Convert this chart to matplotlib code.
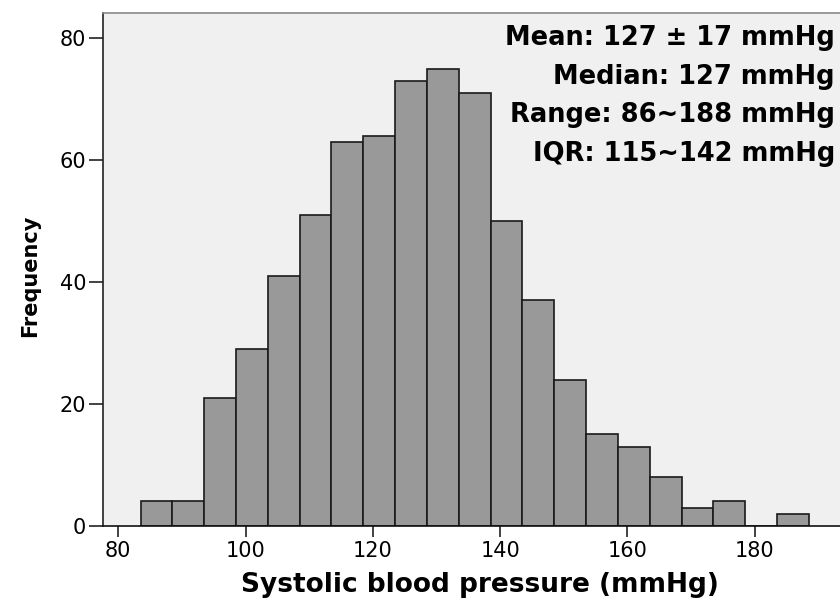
import numpy as np
import matplotlib.pyplot as plt

# Histograma de presion sistolica (conteos leidos por bin de 5 mmHg)
bin_centers = [86, 91, 96, 101, 106, 111, 116, 121, 126, 131, 136,
               141, 146, 151, 156, 161, 166, 171, 176, 181, 186]
counts = [4, 4, 21, 29, 41, 51, 63, 64, 73, 75, 71,
          50, 37, 24, 15, 13, 8, 3, 4, 0, 2]
bin_width = 5

stats_lines = ['Mean: 127 \u00b1 17 mmHg',
               'Median: 127 mmHg',
               'Range: 86~188 mmHg',
               'IQR: 115~142 mmHg']

x_ticks = [80, 100, 120, 140, 160, 180]
y_ticks = [0, 20, 40, 60, 80]

fig = plt.figure(figsize=(8.4, 6.12), dpi=100)
ax = fig.add_axes([0.1226, 0.1407, 0.8774, 0.838])
ax.set_facecolor('#f0f0f0')

ax.bar(bin_centers, counts, width=bin_width, color='#999999',
       edgecolor='#1a1a1a', linewidth=1.2, zorder=2)

ax.set_xlim(77.6, 193.4)
ax.set_ylim(0, 84.1)
ax.set_xticks(x_ticks)
ax.set_yticks(y_ticks)
ax.tick_params(axis='both', labelsize=15, color='#222222', width=1.2)
ax.tick_params(axis='x', length=8, pad=3)
ax.tick_params(axis='y', length=10, pad=2)

ax.spines['right'].set_visible(False)
ax.spines['top'].set_color('#888888')
ax.spines['left'].set_color('#222222')
ax.spines['bottom'].set_color('#111111')
for s in ['top', 'left', 'bottom']:
    ax.spines[s].set_linewidth(1.2)

ax.set_xlabel('Systolic blood pressure (mmHg)', fontsize=19, fontweight='bold')
ax.xaxis.label.set_va('center')
ax.xaxis.set_label_coords(0.5115, -0.1153)
ax.set_ylabel('Frequency', fontsize=15, fontweight='bold')
ax.yaxis.label.set_va('center')
ax.yaxis.set_label_coords(-0.099, 0.487)

# Cuadro de estadisticas arriba a la derecha
line_y = [0.938, 0.874, 0.812, 0.748]
for txt, y in zip(stats_lines, line_y):
    fig.text(0.994, y, txt, ha='right', va='center',
             fontsize=18.5, fontweight='bold')

plt.savefig('out.png', dpi=100, facecolor='white')
plt.close()
